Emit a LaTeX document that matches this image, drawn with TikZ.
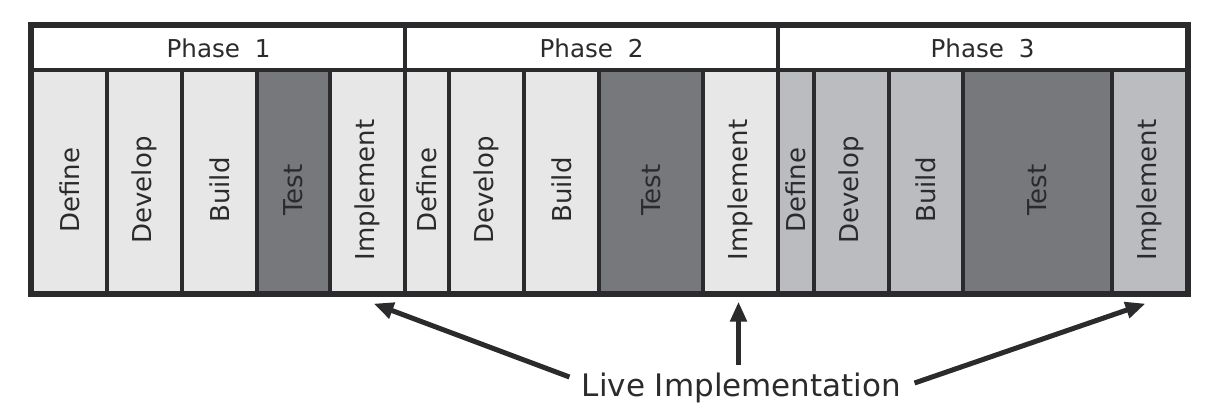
\documentclass[tikz,border=0pt]{standalone}
\usepackage{fontspec}
\setmainfont{DejaVu Sans}
\usetikzlibrary{arrows.meta,calc}

\definecolor{lite}{HTML}{E7E7E7}
\definecolor{mid}{HTML}{BBBCBF}
\definecolor{dark}{HTML}{77787C}
\definecolor{ink}{HTML}{2B2B2D}

\tikzset{
  stage/.style={draw=ink, line width=1.6pt, minimum height=111.5pt, inner sep=0pt},
  lbl/.style={rotate=90, text=ink, font=\fontsize{13}{15}\selectfont},
  phase/.style={draw=ink, line width=1.6pt, fill=white, minimum height=22pt,
    inner sep=0pt, text=ink, font=\fontsize{12.3}{14}\selectfont},
  pointer/.style={-{Triangle[length=10pt,width=8pt]}, line width=2.5pt, draw=ink}
}

\begin{document}
\begin{tikzpicture}[x=0.5pt,y=-0.5pt]
  \useasboundingbox (0,0) rectangle (1225,414);

  % phase headers
  \node[phase, minimum width=186.5pt] (ph1) at (218.5,48) {Phase\hspace{0.6em}1};
  \node[phase, minimum width=186.5pt] (ph2) at (591.5,48) {Phase\hspace{0.6em}2};
  \node[phase, minimum width=204.5pt] (ph3) at (982.5,48) {Phase\hspace{0.6em}3};

  % stages: left/right/label/fill/name
  \foreach \l/\r/\txt/\col/\n in {
      32/107/Define/lite/def1, 107/182/Develop/lite/dev1, 182/257/Build/lite/bld1,
      257/330/Test/dark/tst1, 330/405/Implement/lite/imp1,
      405/449/Define/lite/def2, 449/524/Develop/lite/dev2, 524/599/Build/lite/bld2,
      599/703/Test/dark/tst2, 703/778/Implement/lite/imp2,
      778/814/Define/mid/def3, 814/889/Develop/mid/dev3, 889/963/Build/mid/bld3,
      963/1112/Test/dark/tst3, 1112/1187/Implement/mid/imp3} {
    \node[stage, fill=\col, minimum width={(\r-\l)*0.5pt}] (\n) at ({(\l+\r)/2},181.5) {};
    \node[lbl] (\n-t) at ([yshift=-4.25pt]\n.center) {\txt};
  }

  % outer frame
  \draw[ink, line width=2pt] (ph1.north west) rectangle (imp3.south east);

  \node[inner sep=0pt, text=ink, font=\fontsize{15.5}{18}\selectfont] (live) at (741.5,388) {Live Implementation};

  \coordinate (tip1) at ($(imp1.south)+(6,9)$);
  \coordinate (tip2) at ($(imp2.south)+(-2,7)$);
  \coordinate (tip3) at ($(imp3.south)+(-4,9)$);

  \draw[pointer] ($(live.west)+(-12,-11)$) -- (tip1);
  \draw[pointer] ($(live.north)+(-3,-8)$) -- (tip2);
  \draw[pointer] ($(live.east)+(13,-5)$) -- (tip3);
\end{tikzpicture}
\end{document}
